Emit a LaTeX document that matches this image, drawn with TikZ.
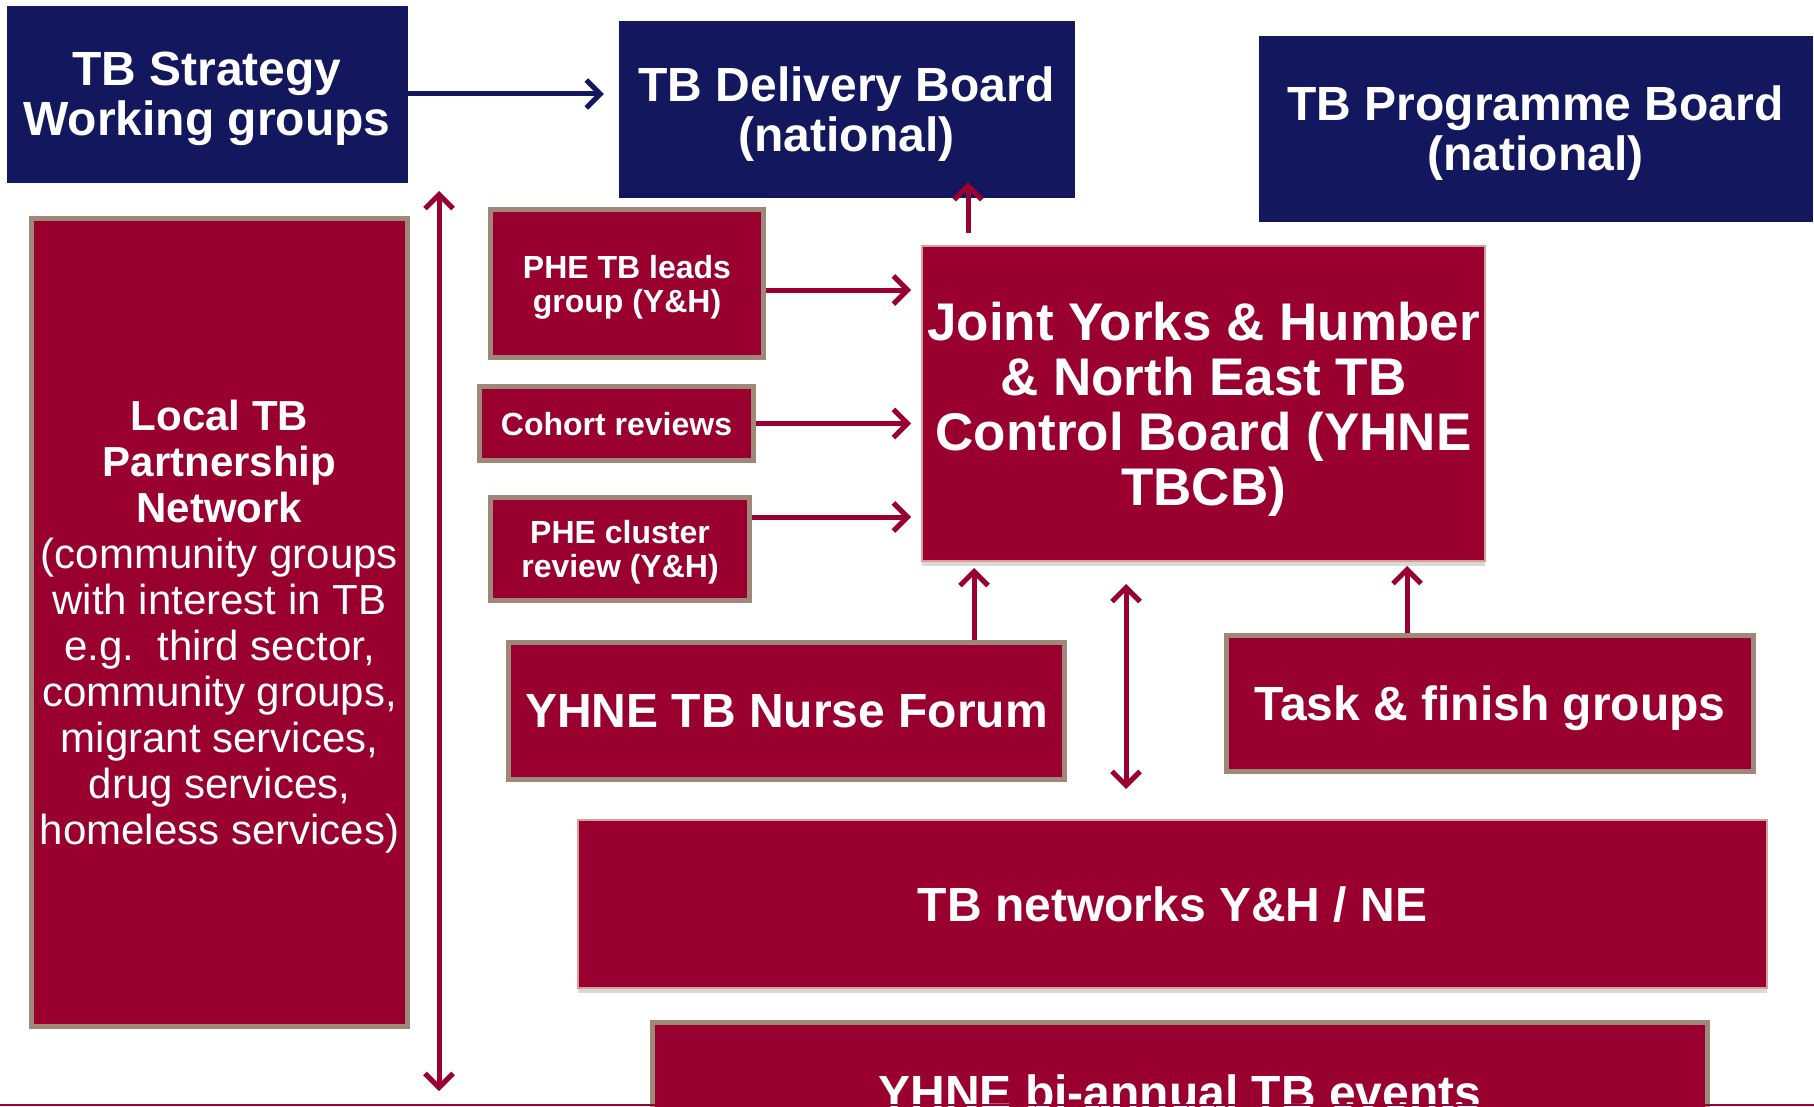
\documentclass[tikz,border=0pt]{standalone}
\usepackage{fontspec}
\setmainfont{Liberation Sans}
\usetikzlibrary{arrows.meta,shadows}

\definecolor{tbnavy}{RGB}{19,23,94}
\definecolor{tbred}{RGB}{153,0,48}
\definecolor{tbtan}{RGB}{160,136,120}
\definecolor{tbpink}{RGB}{214,160,150}

\tikzset{
    navybox/.style={fill=tbnavy, draw=tbnavy, text=white, align=center, inner sep=0pt, text depth=0pt,
        font=\fontsize{48}{50}\selectfont\bfseries},
    redbox/.style={fill=tbred, draw=tbtan, line width=5pt, text=white, align=center, inner sep=0pt, text depth=0pt,
        font=\fontsize{48}{50}\selectfont\bfseries},
    bigbox/.style={fill=tbred, draw=tbpink, line width=2pt, text=white, align=center, inner sep=0pt, text depth=0pt,
        font=\fontsize{48}{50}\selectfont\bfseries,
        drop shadow={shadow xshift=0pt, shadow yshift=-5pt, opacity=0.3}},
    link/.style={draw=tbred, line width=5pt, -{Straight Barb[length=14pt,width=28pt]}},
    dlink/.style={draw=tbred, line width=5pt, {Straight Barb[length=14pt,width=28pt]}-{Straight Barb[length=14pt,width=28pt]}},
}

\begin{document}
\begin{tikzpicture}[x=1pt, y=1pt]
            \useasboundingbox (0,0) rectangle (1814,-1107);
            % national boards
            \node [navybox, minimum width=400pt, minimum height=176pt] (strat) at (207,-94) {TB Strategy\\Working groups};
            \node [navybox, minimum width=455pt, minimum height=176pt] (deliv) at (846.5,-109) {TB Delivery Board\\(national)};
            \node [navybox, minimum width=553pt, minimum height=185pt] (prog) at (1535.5,-128.5) {TB Programme Board\\(national)};
            % regional groups
            \node [redbox, minimum width=376pt, minimum height=808pt, font=\fontsize{42}{46}\selectfont\bfseries] (local) at (219.5,-622.5)
                {Local TB\\Partnership\\Network\\{\mdseries (community groups}\\{\mdseries with interest in TB}\\{\mdseries e.g.\ \ third sector,}\\{\mdseries community groups,}\\{\mdseries migrant services,}\\{\mdseries drug services,}\\{\mdseries homeless services)}};
            \node [redbox, minimum width=273pt, minimum height=148pt, font=\fontsize{32}{34}\selectfont\bfseries] (leads) at (627,-283.5) {PHE TB leads\\group (Y\&H)};
            \node [redbox, minimum width=274pt, minimum height=74pt, font=\fontsize{32}{34}\selectfont\bfseries] (cohort) at (616.5,-423.5) {Cohort reviews};
            \node [redbox, minimum width=259pt, minimum height=103pt, font=\fontsize{32}{34}\selectfont\bfseries] (cluster) at (620,-549) {PHE cluster\\review (Y\&H)};
            \node [bigbox, minimum width=563pt, minimum height=315pt, font=\fontsize{53}{55}\selectfont\bfseries] (joint) at (1203.5,-403.5)
                {Joint Yorks \& Humber\\\& North East TB\\Control Board (YHNE\\TBCB)};
            \node [redbox, minimum width=556pt, minimum height=137pt] (nurse) at (786.5,-711) {YHNE TB Nurse Forum};
            \node [redbox, minimum width=527pt, minimum height=136pt] (task) at (1490,-703.5) {Task \& finish groups};
            \node [bigbox, minimum width=1189pt, minimum height=168pt] (netw) at (1172.5,-904) {TB networks Y\&H / NE};
            \node [redbox, minimum width=1055pt, minimum height=140pt] (events) at (1180,-1092) {YHNE bi-annual TB events};
            % connectors
            \draw [link, draw=tbnavy, shorten >=15pt] (strat.east) -- (strat.east -| deliv.west);
            \draw [link, shorten <=12pt, shorten >=-15pt] ([xshift=47pt]joint.north west) -- ([xshift=47pt]joint.north west |- deliv.south);
            \draw [link, shorten >=10pt] ([yshift=-6.5pt]leads.east) -- ([yshift=-6.5pt]leads.east -| joint.west);
            \draw [link, shorten >=10pt] (cohort.east) -- (cohort.east -| joint.west);
            \draw [link, shorten >=10pt] ([yshift=32pt]cluster.east) -- ([yshift=32pt]cluster.east -| joint.west);
            \draw [link, shorten >=6pt] ([xshift=187.5pt]nurse.north) -- ([xshift=187.5pt]nurse.north |- joint.south);
            \draw [link, shorten >=4pt] ([xshift=-83pt]task.north) -- ([xshift=-83pt]task.north |- joint.south);
            \coordinate (ltop) at (439,-191);
            \coordinate (lbot) at (439,-1091);
            \draw [dlink] (ltop) -- (lbot);
            \coordinate (mtop) at (1126,-584);
            \coordinate (mbot) at (1126,-789);
            \draw [dlink] (mtop) -- (mbot);
            \draw [tbred, line width=2pt] (0,-1105) -- (1814,-1105);
\end{tikzpicture}
\end{document}
